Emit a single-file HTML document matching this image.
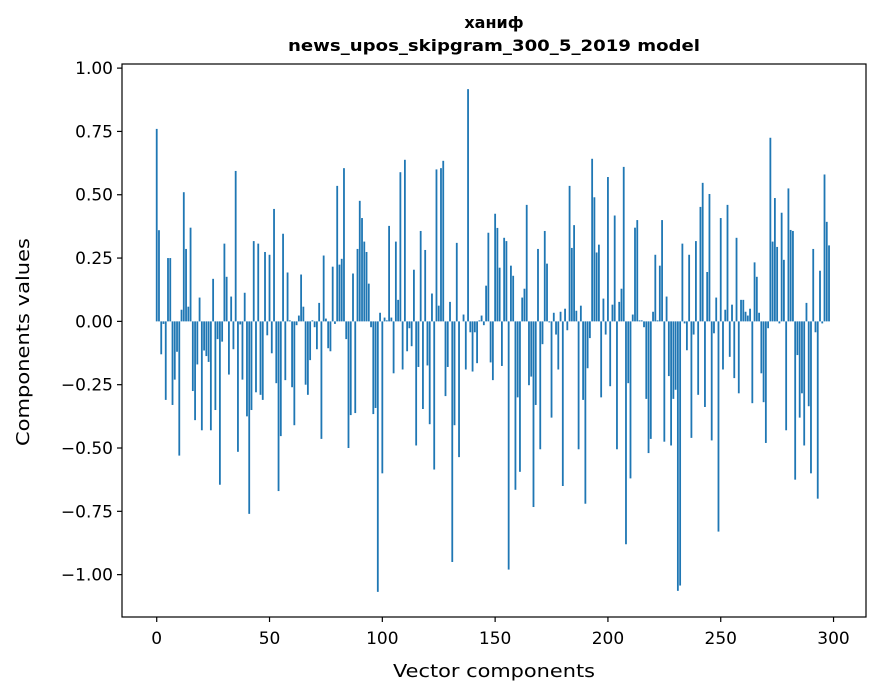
<!DOCTYPE html>
<html><head><meta charset="utf-8"><style>
html,body{margin:0;padding:0;background:#fff;}
svg{display:block;font-family:"DejaVu Sans","Liberation Sans",sans-serif;}
</style></head><body>
<svg id="chart" width="880" height="696" viewBox="0 0 880 696" xmlns="http://www.w3.org/2000/svg">
<rect width="880" height="696" fill="#fff"/>
<text x="494" y="28" text-anchor="middle" font-weight="bold" font-size="16">ханиф</text>
<text x="494" y="51" text-anchor="middle" font-weight="bold" font-size="16" textLength="412" lengthAdjust="spacingAndGlyphs">news_upos_skipgram_300_5_2019 model</text>
<g id="bars"></g>
<g id="yaxis"></g>
<g id="xaxis"></g>
<rect x="122" y="64" width="744" height="553" fill="none" stroke="#000" stroke-width="1.2"/>
<text x="494" y="677" text-anchor="middle" font-size="18" textLength="202" lengthAdjust="spacingAndGlyphs">Vector components</text>
<text transform="translate(29,342) rotate(-90)" text-anchor="middle" font-size="18" textLength="208" lengthAdjust="spacingAndGlyphs">Components values</text>
</svg>
<script>
const values = [
0.76,0.36,-0.13,-0.01,-0.31,0.25,0.25,-0.33,-0.23,-0.12,-0.53,0.046,0.51,0.286,0.058,0.37,-0.275,-0.39,-0.17,0.094,
-0.43,-0.115,-0.137,-0.16,-0.43,0.168,-0.35,-0.07,-0.645,-0.08,0.307,0.176,-0.21,0.098,-0.11,0.594,-0.515,-0.012,-0.23,0.113,
-0.375,-0.76,-0.35,0.317,-0.28,0.307,-0.29,-0.31,0.274,-0.055,0.263,-0.126,0.444,-0.244,-0.67,-0.453,0.346,-0.232,0.193,0.004,
-0.26,-0.41,-0.015,0.023,0.185,0.058,-0.25,-0.29,-0.153,0.004,-0.023,-0.11,0.073,-0.464,0.26,0.011,-0.106,-0.118,0.216,-0.01,
0.535,0.224,0.247,0.605,-0.07,-0.5,-0.37,0.189,-0.362,0.286,0.476,0.408,0.315,0.274,0.149,-0.023,-0.366,-0.342,-1.068,0.034,
-0.6,0.015,0.004,0.377,0.015,-0.205,0.315,0.085,0.589,-0.19,0.638,-0.118,-0.027,-0.098,0.204,-0.49,-0.18,0.357,-0.346,0.282,
-0.174,-0.406,0.11,-0.585,0.6,0.062,0.605,0.634,-0.295,-0.18,0.077,-0.95,-0.41,0.31,-0.536,0,0.027,-0.19,0.917,-0.043,
-0.198,-0.043,-0.165,0.004,0.023,-0.015,0.141,0.35,-0.162,-0.232,0.425,0.369,0.212,-0.176,0.33,0.317,-0.98,0.22,0.18,-0.665,
-0.30,-0.594,0.094,0.129,0.46,-0.252,-0.218,-0.733,-0.33,0.286,-0.505,-0.09,0.357,0.228,-0.004,-0.38,0.034,-0.052,-0.19,0.038,
-0.65,0.05,-0.035,0.535,0.29,0.38,0.042,-0.505,0.062,-0.31,-0.72,-0.185,-0.066,0.642,0.49,0.272,0.303,-0.3,0.09,-0.052,
0.57,-0.256,0.066,0.418,-0.505,0.077,0.129,0.61,-0.88,-0.244,-0.62,0.027,0.37,0.4,0.004,0.004,-0.023,-0.306,-0.52,-0.464,
0.038,0.263,0.004,0.22,0.4,-0.475,0.098,-0.216,-0.49,-0.306,-0.27,-1.064,-1.043,0.307,-0.008,-0.114,0.263,-0.46,-0.052,0.317,
-0.29,0.452,0.547,-0.338,0.195,0.503,-0.47,-0.047,0.094,-0.83,0.408,-0.19,0.046,0.46,-0.14,0.066,-0.224,0.33,-0.284,0.085,
0.085,0.038,0.023,0.05,-0.323,0.233,0.176,0.034,-0.205,-0.319,-0.48,-0.027,0.725,0.315,0.487,0.294,-0.008,0.429,0.243,-0.43,
0.525,0.361,0.357,-0.625,-0.133,-0.38,-0.284,-0.49,0.073,-0.335,-0.6,0.286,-0.043,-0.7,0.2,-0.008,0.58,0.393,0.3,0
];
const xTicks = [0,50,100,150,200,250,300];
const yTicks = [1.0,0.75,0.5,0.25,0,-0.25,-0.5,-0.75,-1.0];
const yTickLabels = ["1.00","0.75","0.50","0.25","0.00","\u22120.25","\u22120.50","\u22120.75","\u22121.00"];

const NS="http://www.w3.org/2000/svg";
const L=122,R=866,T=64,B=617;
const n=values.length;
const xmin=-0.4-0.05*(n-1+0.8), xmax=(n-1)+0.4+0.05*(n-1+0.8);
let vmin=Math.min(0,...values), vmax=Math.max(0,...values);
const pad=(vmax-vmin)*0.05;
const ymin=vmin-pad, ymax=vmax+pad;
function xs(v){return L+(v-xmin)/(xmax-xmin)*(R-L);}
function ys(v){return B-(v-ymin)/(ymax-ymin)*(B-T);}
function mk(tag,attrs,parent){const e=document.createElementNS(NS,tag);for(const k in attrs)e.setAttribute(k,attrs[k]);parent.appendChild(e);return e;}

const gb=document.getElementById('bars');
values.forEach((v,i)=>{
  const x0=xs(i-0.4),x1=xs(i+0.4);
  const y0=ys(Math.max(v,0)),y1=ys(Math.min(v,0));
  const r=mk('rect',{x:x0,y:y0,width:x1-x0,height:Math.max(y1-y0,0.01),fill:'#1f77b4'},gb);
  
  
});
const gy=document.getElementById('yaxis');
yTicks.forEach((t,i)=>{
  const y=ys(t);
  const ln=mk('line',{x1:L-5,x2:L,y1:y,y2:y,stroke:'#000','stroke-width':1.2},gy);
  
  
  const tx=mk('text',{x:L-9,y:y+6,'text-anchor':'end','font-size':17},gy);
  tx.textContent=yTickLabels[i];
  
  
});
const gx=document.getElementById('xaxis');
xTicks.forEach(t=>{
  const x=xs(t);
  const ln=mk('line',{x1:x,x2:x,y1:B,y2:B+5,stroke:'#000','stroke-width':1.2},gx);
  
  
  const tx=mk('text',{x:x,y:B+27,'text-anchor':'middle','font-size':17},gx);
  tx.textContent=String(t);
  
  
});
</script>
</body></html>
